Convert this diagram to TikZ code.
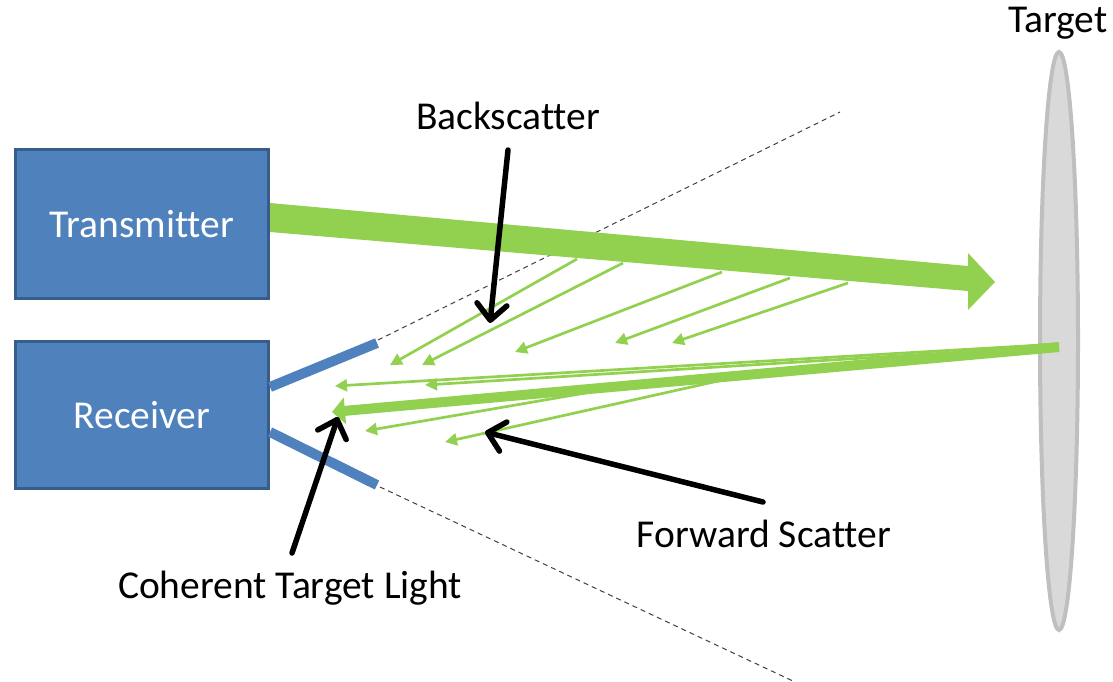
\documentclass[tikz,border=0pt]{standalone}
\usepackage{fontspec}
\setmainfont[Ligatures={NoCommon}]{Carlito}
\usetikzlibrary{arrows.meta,shapes.geometric}
\definecolor{boxblue}{HTML}{4F81BD}
\definecolor{boxedge}{HTML}{385D8A}
\definecolor{beamgreen}{HTML}{92D050}
\definecolor{tgtfill}{HTML}{D9D9D9}
\definecolor{tgtedge}{HTML}{BFBFBF}
\definecolor{dashgray}{HTML}{404040}
\begin{document}
\begin{tikzpicture}[x=1pt,y=-1pt,
  bigfont/.style={font=\fontsize{39.5}{46}\selectfont},
  unitbox/.style={bigfont, draw=boxedge, line width=3pt, fill=boxblue, text=white,
    minimum width=253pt, inner sep=0pt},
  lbl/.style={bigfont, inner sep=0pt, anchor=base},
  lens/.style={boxblue, line width=10pt},
  fov/.style={dashgray, line width=1pt, dash pattern=on 5pt off 4pt},
  scat/.style={beamgreen, line width=2.7pt, -{Triangle[length=12pt,width=12pt]}},
  coh/.style={beamgreen, line width=10pt, -{Triangle[length=13pt,width=26pt]}},
  pointer/.style={black, line width=5.5pt, line cap=round,
    -{Straight Barb[length=16pt,width=30pt,round]}}
]
\useasboundingbox (0,0) rectangle (1113,682);

% units
\node[unitbox, minimum height=149pt] (tx) at (142,224) {Transmitter};
\node[unitbox, minimum height=147pt] (rx) at (142,415) {Receiver};

% target
\node[ellipse, draw=tgtedge, line width=4pt, fill=tgtfill,
  minimum width=38pt, minimum height=578pt, inner sep=0pt] (tgt) at (1059,341) {};

% labels
\node[lbl] (ltarget) at (1058,33) {Target};
\node[lbl] (lback) at (508,130) {Backscatter};
\node[lbl] (lfwd) at (764,547) {Forward Scatter};
\node[lbl] (lcoh) at (290,598) {Coherent Target Light};

% field of view
\coordinate (lensA1) at (270,387);  \coordinate (lensA2) at (377,343);
\coordinate (lensB1) at (270,432);  \coordinate (lensB2) at (377,485);
\coordinate (fovA1) at (378,340);   \coordinate (fovA2) at (840,112);
\coordinate (fovB1) at (380,487);   \coordinate (fovB2) at (795,682);
\draw[fov] (fovA1) -- (fovA2);
\draw[fov] (fovB1) -- (fovB2);
\draw[lens] (lensA1) -- (lensA2);
\draw[lens] (lensB1) -- (lensB2);

% transmitted beam
\fill[beamgreen] (270,203) -- (968,266) -- (968,253) -- (995,282) -- (968,310)
  -- (968,291) -- (270,232) -- cycle;

% backscatter
\coordinate (b1s) at (577,259); \coordinate (b1e) at (390,365);
\coordinate (b2s) at (623,263); \coordinate (b2e) at (422,365);
\coordinate (b3s) at (722,272); \coordinate (b3e) at (515,352);
\coordinate (b4s) at (790,278); \coordinate (b4e) at (615,343);
\coordinate (b5s) at (848,283); \coordinate (b5e) at (672,343);
\draw[scat] (b1s) -- (b1e);
\draw[scat] (b2s) -- (b2e);
\draw[scat] (b3s) -- (b3e);
\draw[scat] (b4s) -- (b4e);
\draw[scat] (b5s) -- (b5e);

% forward scatter and coherent return
\coordinate (tgtpt) at (1059,347);
\coordinate (f1s) at (1059,344); \coordinate (f1e) at (335,386);
\coordinate (f2s) at (1059,346); \coordinate (f2e) at (425,385);
\coordinate (f3s) at (620,387);  \coordinate (f3e) at (365,431);
\coordinate (f4s) at (745,375);  \coordinate (f4e) at (445,442);
\coordinate (cohe) at (332,412);
\draw[scat] (f1s) -- (f1e);
\draw[scat] (f2s) -- (f2e);
\draw[scat] (f3s) -- (f3e);
\draw[scat] (f4s) -- (f4e);
\draw[coh] (tgtpt) -- (cohe);

% pointers
\coordinate (pb1) at (508,150); \coordinate (pb2) at (490,323);
\coordinate (pc1) at (292,553); \coordinate (pc2) at (338,417);
\coordinate (pf1) at (763,502); \coordinate (pf2) at (485,432);
\draw[pointer] (pb1) -- (pb2);
\draw[pointer] (pc1) -- (pc2);
\draw[pointer] (pf1) -- (pf2);
\end{tikzpicture}
\end{document}
